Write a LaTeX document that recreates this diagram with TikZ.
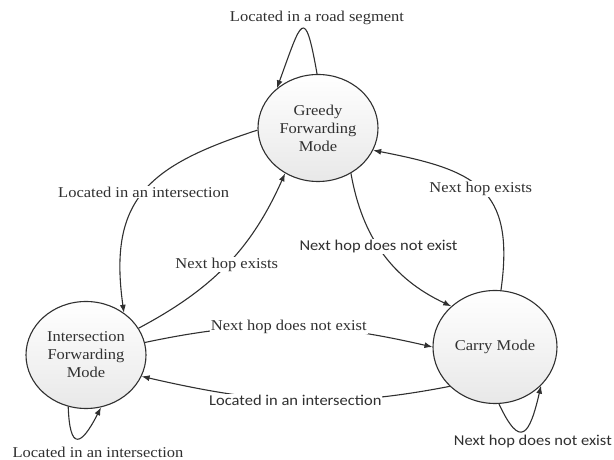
\documentclass[tikz,border=0pt]{standalone}
\usepackage{fontspec}
\setmainfont{Liberation Serif}[FakeStretch=1.1]
\newfontfamily\sanslabel{Carlito}[FakeStretch=1.1]
\usetikzlibrary{arrows.meta,shapes.geometric}
\definecolor{inkgray}{HTML}{303030}

\begin{document}
\begin{tikzpicture}[x=1pt,y=1pt,
    every edge/.style={draw=inkgray,line width=1.1pt,-{Latex[length=8pt,width=6pt]}},
    lbl/.style={fill=white,inner sep=1pt,text=inkgray,font=\fontsize{15}{18}\selectfont},
    slbl/.style={lbl,font=\sanslabel\fontsize{15}{18}\selectfont}]

    \useasboundingbox (0,0) rectangle (614,460);

    \begin{scope}[every node/.style={ellipse,draw=inkgray,line width=1.1pt,top color=white,bottom color=black!9,
        minimum width=120pt,minimum height=107pt,inner sep=0pt,align=center,text=inkgray,font=\fontsize{15}{18}\selectfont}]
        \node (greedy) at (318,332) {Greedy\\Forwarding\\Mode};
        \node (inter) at (86,105) {Intersection\\Forwarding\\Mode};
        \node[minimum width=124pt,minimum height=113pt] (carry) at (495,113) {Carry Mode};
    \end{scope}

    % transitions between the modes
    \path (greedy.182) edge[out=198,in=98,looseness=1.3] node[lbl] {Located in an intersection} (inter.48);
    \path (inter.27) edge[out=28,in=246] node[lbl] {Next hop exists} (greedy.234);
    \path (greedy.-54) edge[out=-80,in=155] node[slbl,pos=0.45] {Next hop does not exist} (carry.137);
    \path (carry.84) edge[out=82,in=-11,looseness=1.4] node[lbl] {Next hop exists} (greedy.-22);
    \path (inter.12) edge[out=12,in=167] node[lbl] {Next hop does not exist} (carry.180);
    \path (carry.221) edge[out=191,in=-13] node[slbl] {Located in an intersection} (inter.-21);

    % self loops
    \path (greedy.91) edge[out=100,in=70,looseness=4.3] (greedy.136);
    \path (inter.251) edge[out=-88,in=-117,looseness=3.45] (inter.286);
    \path (carry.-86) edge[out=-65,in=-103,looseness=2.83] (carry.-40);

    \node[lbl] (roadlbl) at (317,442) {Located in a road segment};
    \node[lbl] (interlbl) at (98,8) {Located in an intersection};
    \node[slbl,anchor=east] (carrylbl) at (613,18) {Next hop does not exist};

\end{tikzpicture}
\end{document}
